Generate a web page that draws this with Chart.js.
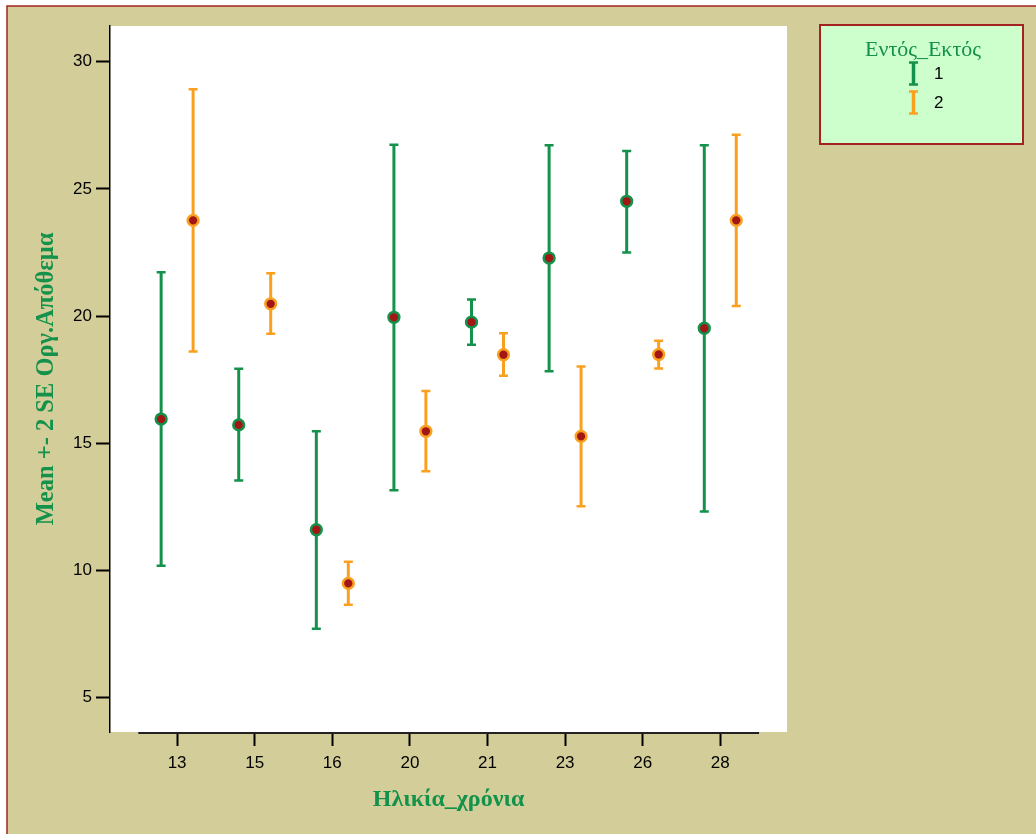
<!DOCTYPE html>
<html>
<head>
<meta charset="utf-8">
<script src="https://cdn.jsdelivr.net/npm/chart.js@4.4.0/dist/chart.umd.min.js"></script>
<style>
html, body { margin: 0; padding: 0; background: #fff; }
</style>
</head>
<body>
<canvas id="errChart" width="1036" height="834"></canvas>
<script>
var ages = ['13', '15', '16', '20', '21', '23', '26', '28'];
var meanIn = [15.95, 15.72, 11.60, 19.95, 19.76, 22.28, 24.51, 19.52];
var lowIn = [10.18, 13.54, 7.71, 13.15, 18.87, 17.83, 22.50, 12.32];
var highIn = [21.72, 17.93, 15.47, 26.73, 20.65, 26.71, 26.49, 26.71];
var meanOut = [23.76, 20.48, 9.49, 15.47, 18.48, 15.27, 18.49, 23.76];
var lowOut = [18.61, 19.30, 8.65, 13.90, 17.65, 12.52, 17.94, 20.39];
var highOut = [28.91, 21.68, 10.34, 17.05, 19.32, 18.02, 19.03, 27.13];
var yTicks = [5, 10, 15, 20, 25, 30];
var groups = ['1', '2'];

var green = '#14914a';
var orange = '#f9a11e';
var dotRed = '#a31616';
var tan = '#d3ce99';
var frameRed = '#a52222';
var shift = 0.206;

function points(means, lows, highs, dx) {
    return means.map(function (m, i) {
        return { x: i + dx, y: m, lo: lows[i], hi: highs[i] };
    });
}

// background, frame and white plot area
var framePlugin = {
    id: 'frame',
    beforeDraw: function (chart) {
        var c = chart.ctx, a = chart.chartArea;
        c.save();
        c.fillStyle = '#fff';
        c.fillRect(0, 0, chart.width, chart.height);
        c.fillStyle = tan;
        c.fillRect(7, 6, chart.width, chart.height);
        c.strokeStyle = frameRed;
        c.lineWidth = 1.5;
        c.beginPath();
        c.moveTo(7, chart.height);
        c.lineTo(7, 6);
        c.lineTo(chart.width, 6);
        c.stroke();
        c.fillStyle = '#fff';
        c.fillRect(a.left, a.top, a.right - a.left, a.bottom - a.top);
        c.restore();
    }
};

function drawBar(c, x, yLo, yHi, color, w) {
    c.strokeStyle = color;
    c.lineWidth = w || 3;
    c.beginPath();
    c.moveTo(x, yLo);
    c.lineTo(x, yHi);
    c.stroke();
    c.lineWidth = 2.5;
    c.beginPath();
    c.moveTo(x - 4.5, yLo);
    c.lineTo(x + 4.5, yLo);
    c.moveTo(x - 4.5, yHi);
    c.lineTo(x + 4.5, yHi);
    c.stroke();
}

var errorBarPlugin = {
    id: 'errorBars',
    beforeDatasetsDraw: function (chart) {
        var c = chart.ctx;
        var xs = chart.scales.x, ys = chart.scales.y;
        c.save();
        // x baseline only across the categories
        c.strokeStyle = '#222';
        c.lineWidth = 2;
        c.beginPath();
        c.moveTo(xs.getPixelForValue(-0.5), chart.chartArea.bottom + 1);
        c.lineTo(xs.getPixelForValue(ages.length - 0.5), chart.chartArea.bottom + 1);
        c.stroke();
        chart.data.datasets.forEach(function (ds) {
            ds.data.forEach(function (p) {
                var x = xs.getPixelForValue(p.x);
                drawBar(c, x, ys.getPixelForValue(p.lo), ys.getPixelForValue(p.hi), ds.borderColor);
            });
        });
        c.restore();
    }
};

var legendPlugin = {
    id: 'boxLegend',
    afterDraw: function (chart) {
        var c = chart.ctx;
        c.save();
        c.fillStyle = '#ccffcc';
        c.fillRect(820, 25, 203, 119);
        c.strokeStyle = frameRed;
        c.lineWidth = 2;
        c.strokeRect(820, 25, 203, 119);
        c.fillStyle = green;
        c.font = '22px "Liberation Serif"';
        c.textAlign = 'center';
        c.textBaseline = 'middle';
        c.fillText('Εντός_Εκτός', 923, 50);
        var colors = [green, orange];
        groups.forEach(function (g, i) {
            var cy = 73.5 + i * 29;
            drawBar(c, 913.5, cy + 11, cy - 11, colors[i], 3.5);
            c.fillStyle = '#000';
            c.font = '17px "Liberation Sans"';
            c.textAlign = 'left';
            c.fillText(g, 934, cy + 1);
        });
        c.restore();
    }
};

var ctx = document.getElementById('errChart').getContext('2d');

var myChart = new Chart(ctx, {
    type: 'scatter',
    data: {
        datasets: [
            {
                label: groups[0],
                data: points(meanIn, lowIn, highIn, -shift),
                backgroundColor: dotRed,
                borderColor: green,
                borderWidth: 2.5,
                pointRadius: 5.4,
                pointHoverRadius: 5.4
            },
            {
                label: groups[1],
                data: points(meanOut, lowOut, highOut, shift),
                backgroundColor: dotRed,
                borderColor: orange,
                borderWidth: 2.5,
                pointRadius: 5.4,
                pointHoverRadius: 5.4
            }
        ]
    },
    options: {
        responsive: false,
        animation: false,
        layout: {
            padding: { left: 0, right: 249, top: 26, bottom: 0 }
        },
        plugins: {
            legend: { display: false },
            tooltip: { enabled: false }
        },
        scales: {
            x: {
                type: 'linear',
                min: -0.865,
                max: 7.86,
                afterFit: function (scale) { scale.height = 102; },
                afterBuildTicks: function (scale) {
                    scale.ticks = ages.map(function (a, i) { return { value: i }; });
                },
                ticks: {
                    autoSkip: false,
                    maxRotation: 0,
                    padding: 7,
                    color: '#000',
                    font: { family: 'Liberation Sans', size: 17 },
                    callback: function (v) { return ages[v]; }
                },
                grid: {
                    drawOnChartArea: false,
                    drawTicks: true,
                    tickLength: 14,
                    tickWidth: 2,
                    tickColor: '#000'
                },
                border: { display: false },
                title: {
                    display: true,
                    text: 'Ηλικία_χρόνια',
                    color: green,
                    font: { family: 'Liberation Serif', size: 24, weight: 'bold' },
                    padding: { top: 0, bottom: 20 }
                }
            },
            y: {
                min: 3.65,
                max: 31.4,
                afterFit: function (scale) { scale.width = 110; },
                afterBuildTicks: function (scale) {
                    scale.ticks = yTicks.map(function (v) { return { value: v }; });
                },
                ticks: {
                    padding: 4,
                    color: '#000',
                    font: { family: 'Liberation Sans', size: 17 }
                },
                grid: {
                    drawOnChartArea: false,
                    drawTicks: true,
                    tickLength: 14,
                    tickWidth: 2,
                    tickColor: '#000'
                },
                border: { display: true, color: '#000', width: 1.5 },
                title: {
                    display: true,
                    text: 'Mean +- 2 SE Οργ.Απόθεμα',
                    color: green,
                    font: { family: 'Liberation Serif', size: 24.5, weight: 'bold' },
                    padding: { top: 32, bottom: 0 }
                }
            }
        }
    },
    plugins: [framePlugin, errorBarPlugin, legendPlugin]
});
</script>
</body>
</html>
